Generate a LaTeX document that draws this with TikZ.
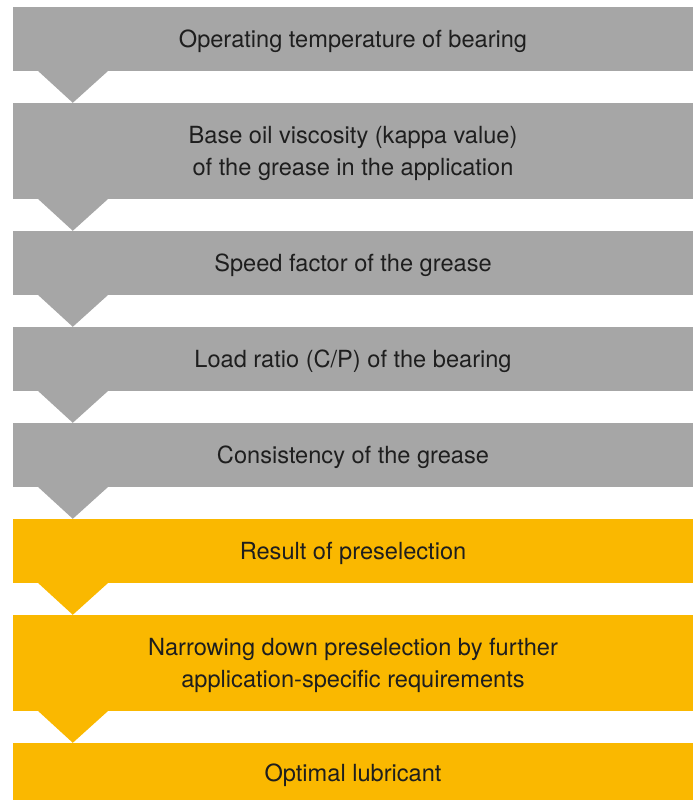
\documentclass[tikz,border=0pt]{standalone}
\usepackage{fontspec}
\setmainfont{TeX Gyre Heros}
\usepackage{tikz}

\definecolor{greyc}{HTML}{A6A6A6}
\definecolor{yellowc}{HTML}{FAB800}
\definecolor{textc}{HTML}{1E1E1E}

\tikzset{
  stagetext/.style={yshift=-2.5pt, inner sep=0pt, align=center,
    text=textc, font=\fontsize{23.6}{32}\selectfont},
  stage/.style={minimum width=680pt, inner sep=0pt},
  greystage/.style={stage, fill=greyc},
  yellowstage/.style={stage, fill=yellowc}
}

\begin{document}
\begin{tikzpicture}[x=1pt,y=-1pt]
\useasboundingbox (0,0) rectangle (693,800);

% steps of the grease selection
\node[greystage, minimum height=64pt, label={[stagetext]center:Operating temperature of bearing}] (temp) at (353,39) {};
\node[greystage, minimum height=96pt, label={[stagetext]center:Base oil viscosity (kappa value)\\of the grease in the application}] (visc) at (353,151) {};
\node[greystage, minimum height=64pt, label={[stagetext]center:Speed factor of the grease}] (speed) at (353,263) {};
\node[greystage, minimum height=64pt, label={[stagetext]center:Load ratio (C/P) of the bearing}] (load) at (353,359) {};
\node[greystage, minimum height=64pt, label={[stagetext]center:Consistency of the grease}] (cons) at (353,455) {};
\node[yellowstage, minimum height=64pt, label={[stagetext]center:Result of preselection}] (pre) at (353,551) {};
\node[yellowstage, minimum height=96pt, label={[stagetext]center:Narrowing down preselection by further\\application-specific requirements}] (narrow) at (353,663) {};
\node[yellowstage, minimum height=57pt, label={[stagetext, yshift=-1.5pt]center:Optimal lubricant}] (opt) at (353,771.5) {};

% arrows between the steps
\foreach \a/\b/\c in {temp/visc/greyc, visc/speed/greyc, speed/load/greyc,
    load/cons/greyc, cons/pre/greyc, pre/narrow/yellowc, narrow/opt/yellowc}
  \fill[\c] ([xshift=25.5pt]\a.south west) -- ([xshift=95pt]\a.south west)
    -- ([xshift=60pt]\b.north west) -- cycle;

\end{tikzpicture}
\end{document}
